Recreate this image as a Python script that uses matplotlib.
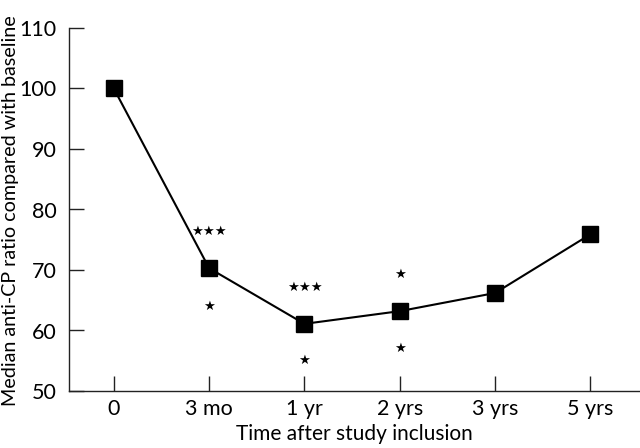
import matplotlib
matplotlib.use("Agg")
import matplotlib.pyplot as plt

categories = ["0", "3 mo", "1 yr", "2 yrs", "3 yrs", "5 yrs"]
median_ratio = [100, 70.3, 61.1, 63.2, 66.2, 75.9]

# significance star annotations: (category index, y value, text)
star_idx = [1, 1, 2, 2, 3, 3]
star_y = [76.4, 64.0, 67.2, 55.0, 69.3, 57.1]
star_text = ["★★★", "★", "★★★", "★", "★", "★"]

plt.rcParams['font.family'] = ['Lato', 'DejaVu Sans']

fig = plt.figure(figsize=(6.4, 4.48), dpi=100)
ax = fig.add_axes([69/640, 57/448, 571/640, 363/448])

x = list(range(len(categories)))
ax.plot(x, median_ratio, color='black', linewidth=1.5, marker='s',
        markersize=12, markerfacecolor='black', markeredgecolor='black', zorder=3)

for i, yv, t in zip(star_idx, star_y, star_text):
    ax.text(i, yv, t, ha='center', va='center', fontsize=9.5,
            family=['DejaVu Sans'], color='black')

ax.set_xlim(-0.47, 5.52)
ax.set_ylim(50, 110)
ax.set_xticks(x)
ax.set_xticklabels(categories)
ax.set_yticks(range(50, 111, 10))

for s in ['top', 'right']:
    ax.spines[s].set_visible(False)
for s in ['left', 'bottom']:
    ax.spines[s].set_linewidth(1.0)
    ax.spines[s].set_color('#222222')

ax.tick_params(axis='both', direction='in', length=11, width=1.0,
               labelsize=15.5, color='#222222')
ax.tick_params(axis='y', pad=9)
ax.tick_params(axis='x', pad=6)

ax.set_xlabel("Time after study inclusion", fontsize=15, labelpad=3)
fig.text(2/640, (448 - 211)/448, "Median anti-CP ratio compared with baseline",
         rotation=90, ha='left', va='center', fontsize=14.2)

fig.savefig("out.png", dpi=100)
